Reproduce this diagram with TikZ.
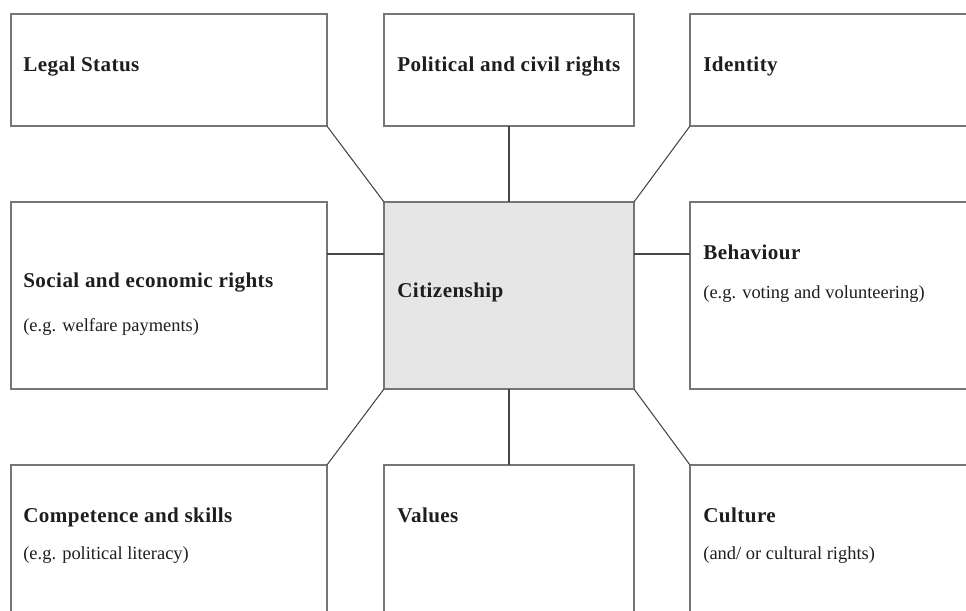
\documentclass[tikz,border=0pt]{standalone}
\usepackage{fontspec}
\setmainfont{Liberation Serif}
\newfontfamily\headfont{Liberation Serif}[LetterSpace=2]
\usetikzlibrary{positioning,calc}

\definecolor{boxgray}{RGB}{118,118,118}
\definecolor{linkgray}{RGB}{70,70,70}
\definecolor{corefill}{RGB}{230,230,230}
\definecolor{inkgray}{RGB}{30,30,30}

\tikzset{
  box/.style 2 args={draw=boxgray, line width=0.9pt, minimum width=#1, minimum height=#2,
    anchor=north west, inner sep=0pt, outer sep=0pt},
  head/.style={anchor=base west, inner sep=0pt, text=inkgray, font=\fontsize{12}{14}\headfont\bfseries},
  note/.style={anchor=base west, inner sep=0pt, text=inkgray, font=\fontsize{10.5}{13}\selectfont},
  link/.style={draw=linkgray, line width=0.6pt}
}

\begin{document}
\begin{tikzpicture}[x=0.02cm,y=-0.02cm]
\clip (0,0) rectangle (966,610);
% boxes
\node[box={6.32cm}{2.24cm}] (legal) at (11,14) {};
\node[box={5cm}{2.24cm}] (political) at (384,14) {};
\node[box={6.4cm}{2.24cm}] (identity) at (690,14) {};
\node[box={6.32cm}{3.74cm}] (social) at (11,202) {};
\node[box={5cm}{3.74cm}, fill=corefill] (citizen) at (384,202) {};
\node[box={6.4cm}{3.74cm}] (behaviour) at (690,202) {};
\node[box={6.32cm}{3.8cm}] (competence) at (11,465) {};
\node[box={5cm}{3.8cm}] (values) at (384,465) {};
\node[box={6.4cm}{3.8cm}] (culture) at (690,465) {};
% texts
\node[head] (legalT) at (23,71) {Legal Status};
\node[head] (politicalT) at (397,71) {Political and civil rights};
\node[head] (identityT) at (703,71) {Identity};
\node[head] (socialT) at (23,287) {Social and economic rights};
\node[note] (socialN) at (23,331) {(e.g. welfare payments)};
\node[head] (citizenT) at (397,297) {Citizenship};
\node[head] (behaviourT) at (703,259) {Behaviour};
\node[note] (behaviourN) at (703,298) {(e.g. voting and volunteering)};
\node[head] (competenceT) at (23,522) {Competence and skills};
\node[note] (competenceN) at (23,559) {(e.g. political literacy)};
\node[head] (valuesT) at (397,522) {Values};
\node[head] (cultureT) at (703,522) {Culture};
\node[note] (cultureN) at (703,559) {(and/ or cultural rights)};
% links
\draw[link] (legal.south east) -- (citizen.north west);
\draw[link] (political.south) -- (citizen.north);
\draw[link] (identity.south west) -- (citizen.north east);
\draw[link] ($(social.north east)+(0,52)$) -- ($(citizen.north west)+(0,52)$);
\draw[link] ($(citizen.north east)+(0,52)$) -- ($(behaviour.north west)+(0,52)$);
\draw[link] (competence.north east) -- (citizen.south west);
\draw[link] (values.north) -- (citizen.south);
\draw[link] (culture.north west) -- (citizen.south east);
\end{tikzpicture}
\end{document}
